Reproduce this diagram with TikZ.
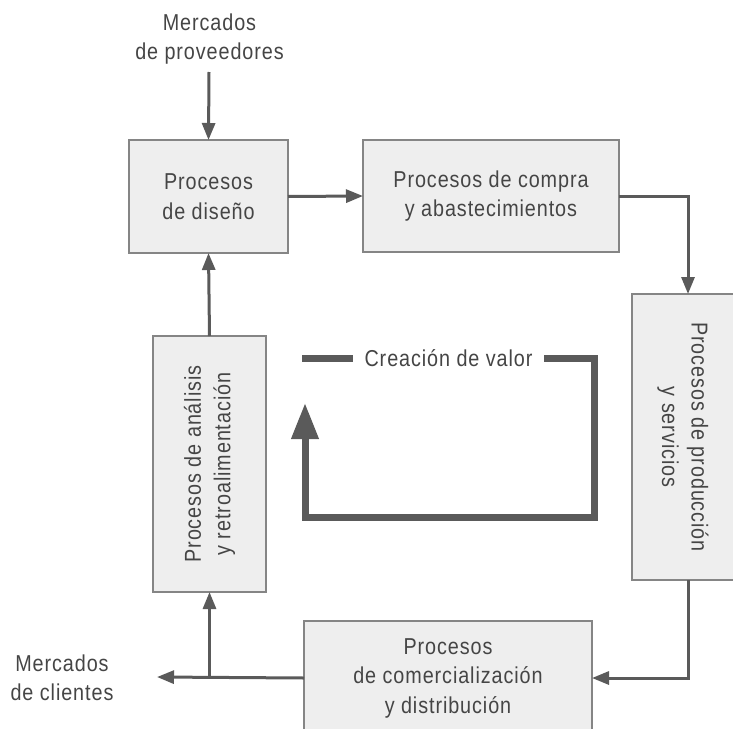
\documentclass[tikz,border=0pt]{standalone}
\usepackage{fontspec}
\setmainfont{Liberation Sans}[FakeStretch=0.86, LetterSpace=4]
\usetikzlibrary{arrows.meta}
\definecolor{txtgray}{HTML}{454545}
\definecolor{linegray}{HTML}{5A5A5A}
\definecolor{boxfill}{HTML}{EEEEEE}
\definecolor{boxdraw}{HTML}{858585}
\tikzset{
  procbox/.style={draw=boxdraw, line width=1.3pt, fill=boxfill, inner sep=0pt, outer sep=0pt,
    text=txtgray, align=center, font=\fontsize{23}{29.5}\selectfont},
  label/.style={inner sep=0pt, text=txtgray, align=center, font=\fontsize{23}{29.5}\selectfont},
  conn/.style={draw=linegray, line width=3pt, -{Triangle[length=17pt,width=13pt]}},
  loopline/.style={draw=linegray, line width=7pt, line join=miter, -{Triangle[length=36pt,width=26pt]}}
}
\begin{document}
\begin{tikzpicture}[x=1pt,y=-1pt]
\useasboundingbox (0,0) rectangle (733,728);
% boxes
\node[procbox, minimum width=159pt, minimum height=113pt] (diseno) at (208.5,196.5) {Procesos\\de diseño};
\node[procbox, minimum width=256pt, minimum height=112pt] (compra) at (491,196) {Procesos de compra\\y abastecimientos};
\node[procbox, minimum width=286pt, minimum height=102pt, rotate=-90] (prod) at (683,437) {Procesos de producción\\y servicios};
\node[procbox, minimum width=288pt, minimum height=114pt] (comerc) at (448,678) {Procesos\\de comercialización\\y distribución};
\node[procbox, minimum width=256pt, minimum height=113pt, rotate=90] (anal) at (209.5,464) {Procesos de análisis\\y retroalimentación};
% outside labels
\node[label] (prov) at (209.5,39) {Mercados\\de proveedores};
\node[label] (clientes) at (62,678) {Mercados\\de clientes};
\coordinate (provout) at (209,72);
\coordinate (prodin) at (688,294);
\coordinate (prodout) at (688,580);
\coordinate (clin) at (157,677);
\coordinate (branch) at (209.5,677);
% connectors
\draw[conn] (provout) -- (diseno.north);
\draw[conn] (diseno.east) -- (compra.west);
\draw[conn] (compra.east) -| (prodin);
\draw[conn] (prodout) |- (comerc.east);
\draw[conn] (comerc.west) -- (clin);
\draw[conn] (branch) -- (anal.west);
\draw[conn] (anal.east) -- (diseno.south);
% creacion de valor loop
\coordinate (lpA) at (302,358);
\coordinate (lpB) at (594,358);
\coordinate (lpC) at (594,517);
\coordinate (lpD) at (305,517);
\coordinate (lpE) at (305,403);
\draw[loopline] (lpA) -- (lpB) -- (lpC) -- (lpD) -- (lpE);
\node[label, fill=white, inner xsep=12pt, inner ysep=4pt] (valor) at (448.5,358) {Creación de valor};
\end{tikzpicture}
\end{document}
